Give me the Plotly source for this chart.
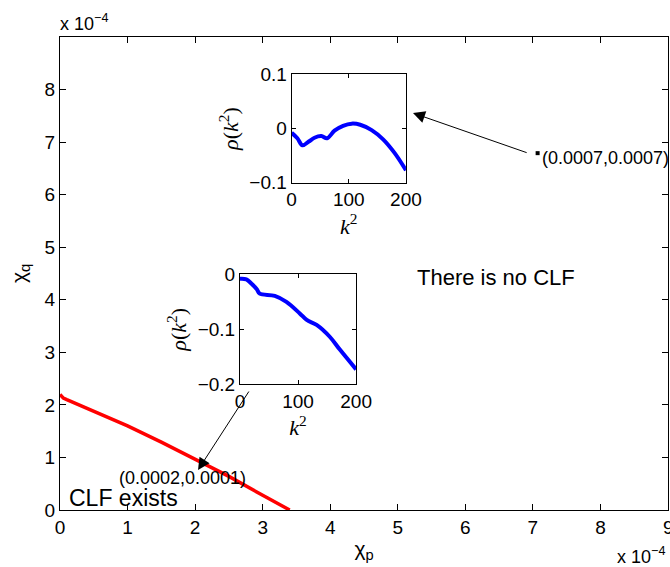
import plotly.graph_objects as go

# Main boundary curve (units of 1e-4)
chi_p = [0, 0.05, 0.1, 0.5, 1.0, 1.5, 2.0, 2.5, 3.0, 3.4]
chi_q = [2.2, 2.13, 2.1, 1.88, 1.6, 1.29, 0.96, 0.64, 0.28, 0.0]

# Inset 1 (point 0.0007, 0.0007)
k1 = [0, 10, 19, 30, 40, 52, 62, 75, 90, 105, 120, 140, 160, 180, 200]
rho1 = [-0.008, -0.018, -0.031, -0.024, -0.017, -0.014, -0.018, -0.004, 0.005,
        0.009, 0.007, -0.003, -0.020, -0.045, -0.077]

# Inset 2 (point 0.0002, 0.0001)
k2 = [0, 11, 20, 29, 34, 60, 80, 103, 115, 132, 155, 172, 200]
rho2 = [-0.008, -0.009, -0.017, -0.027, -0.035, -0.039, -0.050, -0.071, -0.083,
        -0.092, -0.114, -0.137, -0.173]

# Marker points (main axes units)
mk_x = [7.07, 2.72]
mk_y = [6.79, 4.30]

x_ticks = list(range(0, 10))
y_ticks = list(range(0, 9))

FONT = "Liberation Sans, Arial, sans-serif"
SERIF = "Liberation Serif, Times New Roman, serif"

fig = go.Figure()
fig.add_trace(go.Scatter(x=chi_p, y=chi_q, mode="lines",
                         line=dict(color="#ff0000", width=3.5), xaxis="x", yaxis="y",
                         showlegend=False))
fig.add_trace(go.Scatter(x=mk_x, y=mk_y, mode="markers",
                         marker=dict(symbol="square", size=4, color="black"),
                         xaxis="x", yaxis="y", showlegend=False))
fig.add_trace(go.Scatter(x=k1, y=rho1, mode="lines", line=dict(color="#0000ff", width=4, shape="spline"),
                         xaxis="x2", yaxis="y2", showlegend=False))
fig.add_trace(go.Scatter(x=k2, y=rho2, mode="lines", line=dict(color="#0000ff", width=4, shape="spline"),
                         xaxis="x3", yaxis="y3", showlegend=False))

ax_common = dict(showline=True, linecolor="black", linewidth=1, mirror="ticks",
                 ticks="inside", tickcolor="black", showgrid=False, zeroline=False,
                 automargin=False,
                 tickfont=dict(family=FONT, size=19, color="black"))

fig.update_layout(
    width=670, height=567,
    margin=dict(l=60, r=2, t=37, b=57),
    paper_bgcolor="white", plot_bgcolor="white",
    font=dict(family=FONT, color="black"),
    xaxis=dict(**ax_common, range=[0, 9], tickvals=x_ticks, ticklen=6,
               domain=[0, 1], anchor="y",
               title=dict(text="χ<sub>p</sub>", font=dict(size=21), standoff=4)),
    yaxis=dict(**ax_common, range=[0, 9], tickvals=y_ticks, ticklen=6,
               domain=[0, 1], anchor="x",
               title=dict(text="χ<sub>q</sub>", font=dict(size=21), standoff=12)),
    xaxis2=dict(**ax_common, range=[0, 200], tickvals=[0, 100, 200], ticklen=4,
                domain=[0.381, 0.569], anchor="y2",
                title=dict(text="<i>k</i><sup>2</sup>", font=dict(family=SERIF, size=22), standoff=0)),
    yaxis2=dict(**ax_common, range=[-0.1, 0.1], tickvals=[-0.1, 0, 0.1],
                ticktext=["−0.1", "0", "0.1"], ticklen=4,
                domain=[0.692, 0.921], anchor="x2",
                title=dict(text="<i>ρ</i>(<i>k</i><sup>2</sup>)", font=dict(family=SERIF, size=22), standoff=4)),
    xaxis3=dict(**ax_common, range=[0, 200], tickvals=[0, 100, 200], ticklen=4,
                domain=[0.296, 0.487], anchor="y3",
                title=dict(text="<i>k</i><sup>2</sup>", font=dict(family=SERIF, size=22), standoff=0)),
    yaxis3=dict(**ax_common, range=[-0.2, 0], tickvals=[-0.2, -0.1, 0],
                ticktext=["−0.2", "−0.1", "0"], ticklen=4,
                domain=[0.266, 0.498], anchor="x3",
                title=dict(text="<i>ρ</i>(<i>k</i><sup>2</sup>)", font=dict(family=SERIF, size=22), standoff=4)),
)

# arrows
fig.add_annotation(x=5.225, y=7.553, ax=6.93, ay=6.79, axref="x", ayref="y",
                   xref="x", yref="y", text="", showarrow=True,
                   arrowhead=2, arrowsize=2.4, arrowwidth=1, arrowcolor="black")
fig.add_annotation(x=2.043, y=0.761, ax=2.81, ay=2.283, axref="x", ayref="y",
                   xref="x", yref="y", text="", showarrow=True,
                   arrowhead=2, arrowsize=2.4, arrowwidth=1, arrowcolor="black")

# text annotations (paper pixel-based via paper coords)
def px(xp):
    return (xp - 60) / 608.0

def py(yp):
    return (510 - yp) / 473.0

texts = [
    ("(0.0007,0.0007)", 540, 158, 18),
    ("(0.0002,0.0001)", 117, 478, 18),
    ("CLF exists", 67, 498, 23),
    ("There is no CLF", 415, 277, 22),
]
for t, xp, yp, s in texts:
    fig.add_annotation(x=px(xp), y=py(yp), xref="paper", yref="paper", text=t,
                       showarrow=False, xanchor="left", yanchor="middle",
                       font=dict(family=FONT, size=s, color="black"))

# last x tick label (partially outside the window, as in the reference)
fig.add_annotation(x=9, y=py(527), xref="x", yref="paper", text="9",
                   showarrow=False, xanchor="center", yanchor="middle",
                   font=dict(family=FONT, size=19, color="black"))

fig.add_annotation(x=px(58), y=py(22), xref="paper", yref="paper",
                   text="x 10<sup>−4</sup>", showarrow=False, xanchor="left", yanchor="middle",
                   font=dict(family=FONT, size=18, color="black"))
fig.add_annotation(x=px(615), y=py(555), xref="paper", yref="paper",
                   text="x 10<sup>−4</sup>", showarrow=False, xanchor="left", yanchor="middle",
                   font=dict(family=FONT, size=18, color="black"))

fig.write_html("out.html")
